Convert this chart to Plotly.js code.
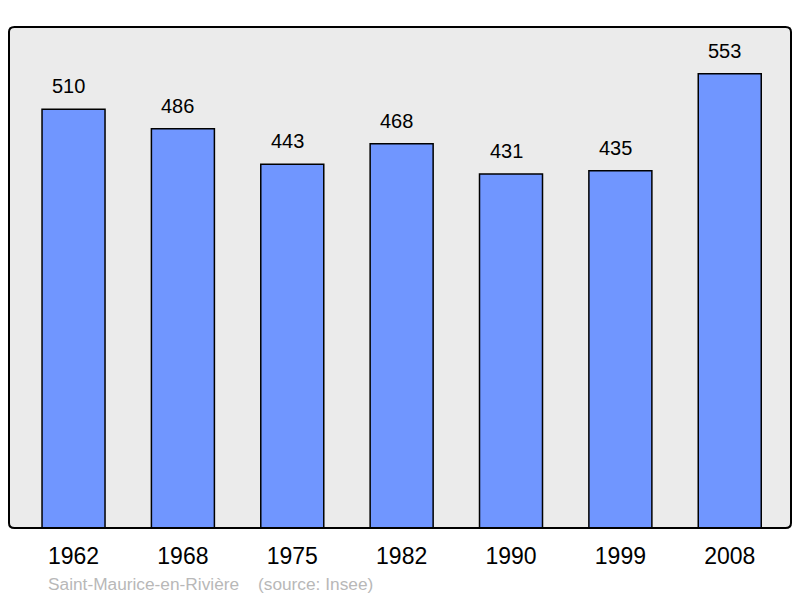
<!DOCTYPE html>
<html>
<head>
<meta charset="utf-8">
<script src="https://cdn.plot.ly/plotly-3.0.1.min.js"></script>
<style>html,body{margin:0;padding:0;background:#fff;}#chart{width:800px;height:598px;}</style>
</head>
<body>
<div id="chart"></div>
<script>
const years = ["1962", "1968", "1975", "1982", "1990", "1999", "2008"];
const population = [510, 486, 443, 468, 431, 435, 553];
const commune = "Saint-Maurice-en-Rivière";
const source = "(source: Insee)";

const font = "Liberation Sans, Arial, sans-serif";

const trace = {
  type: "bar",
  x: years,
  y: population,
  width: 0.576,
  marker: {color: "#7096ff", line: {color: "#000", width: 1.5}},
  hoverinfo: "none"
};

const valueLabels = years.map((yr, i) => ({
  x: i, y: population[i], xref: "x", yref: "y",
  text: String(population[i]), showarrow: false,
  xanchor: "center", yanchor: "middle", yshift: 23, xshift: -5,
  font: {family: font, size: 20, color: "#000"}
}));

const footY = -(584 - 528) / 501;

const layout = {
  width: 800, height: 598,
  margin: {l: 9, r: 9, t: 27, b: 70},
  paper_bgcolor: "#fff",
  plot_bgcolor: "#ebebeb",
  showlegend: false,
  xaxis: {
    type: "category", range: [-0.59, 6.56],
    showgrid: false, zeroline: false, showline: false,
    ticks: "", ticklabelstandoff: 12,
    tickfont: {family: font, size: 23, color: "#000"}
  },
  yaxis: {
    range: [0, 610], showgrid: false, zeroline: false,
    showline: false, showticklabels: false, ticks: ""
  },
  shapes: [{
    type: "path", xref: "paper", yref: "paper",
    path: "M 0,0.99 L 0,0.01 Q 0,0 0.007,0 L 0.993,0 Q 1,0 1,0.01 L 1,0.99 Q 1,1 0.993,1 L 0.007,1 Q 0,1 0,0.99 Z",
    line: {color: "#000", width: 2}, fillcolor: "rgba(0,0,0,0)"
  }],
  annotations: valueLabels.concat([
    {x: (46 - 9) / 782, y: footY, xref: "paper", yref: "paper",
     xanchor: "left", yanchor: "middle", showarrow: false, text: commune,
     font: {family: font, size: 17.3, color: "#b8b8b8"}},
    {x: (256 - 9) / 782, y: footY, xref: "paper", yref: "paper",
     xanchor: "left", yanchor: "middle", showarrow: false, text: source,
     font: {family: font, size: 17.3, color: "#b8b8b8"}}
  ])
};

Plotly.newPlot("chart", [trace], layout, {staticPlot: true, displayModeBar: false});
</script>
</body>
</html>
